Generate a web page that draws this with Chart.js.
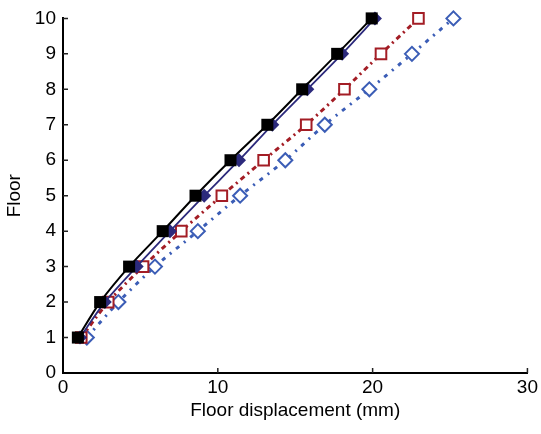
<!DOCTYPE html>
<html>
<head>
<meta charset="utf-8">
<script src="https://cdn.jsdelivr.net/npm/chart.js@4/dist/chart.umd.min.js"></script>
<style>
  html, body { margin: 0; padding: 0; background: #fff; }
  #wrap { width: 541px; height: 434px; }
</style>
</head>
<body>
<div id="wrap"><canvas id="floorChart" width="541" height="434"></canvas></div>
<script>
// floors and displacement (mm) per series
const floors = [1, 2, 3, 4, 5, 6, 7, 8, 9, 10];
const dispBlack = [0.96, 2.40, 4.27, 6.44, 8.56, 10.82, 13.20, 15.45, 17.71, 19.94];
const dispNavy  = [1.10, 2.70, 4.76, 6.91, 9.12, 11.37, 13.52, 15.78, 18.03, 20.15];
const dispRed   = [1.18, 2.92, 5.17, 7.64, 10.26, 12.96, 15.71, 18.18, 20.54, 22.96];
const dispBlue  = [1.54, 3.58, 5.94, 8.71, 11.44, 14.36, 16.91, 19.79, 22.54, 25.22];
const xTicks = [0, 10, 20, 30];
const yTicks = [0, 1, 2, 3, 4, 5, 6, 7, 8, 9, 10];

const pts = (xs) => xs.map((v, i) => ({ x: v, y: floors[i] }));
const FONT = "'Liberation Sans', Arial, Helvetica, sans-serif";

// ticks point into the plot area, like the original
const inwardTicks = {
    id: 'inwardTicks',
    beforeDatasetsDraw(chart) {
        const { ctx, chartArea, scales } = chart;
        ctx.save();
        ctx.strokeStyle = '#222';
        ctx.lineWidth = 1.5;
        ctx.beginPath();
        xTicks.slice(1).forEach(v => {
            const px = scales.x.getPixelForValue(v);
            ctx.moveTo(px, chartArea.bottom);
            ctx.lineTo(px, chartArea.bottom - 5);
        });
        yTicks.slice(1).forEach(v => {
            const py = scales.y.getPixelForValue(v);
            ctx.moveTo(chartArea.left, py);
            ctx.lineTo(chartArea.left + 5, py);
        });
        ctx.stroke();
        ctx.restore();
    }
};

const ctx = document.getElementById('floorChart').getContext('2d');
new Chart(ctx, {
    type: 'line',
    data: {
        datasets: [{
            data: pts(dispBlack),
            borderColor: '#000',
            backgroundColor: '#000',
            borderWidth: 2,
            pointStyle: 'rect',
            pointRadius: 8.5,
            pointBorderWidth: 0,
            tension: 0.3,
            clip: false
        }, {
            data: pts(dispNavy),
            borderColor: '#2c2a7c',
            backgroundColor: '#2c2a7c',
            borderWidth: 1.8,
            pointStyle: 'rectRot',
            pointRadius: 7,
            pointBorderWidth: 0,
            tension: 0.3,
            clip: false
        }, {
            data: pts(dispRed),
            borderColor: '#a31d25',
            backgroundColor: '#fff',
            borderWidth: 3,
            borderDash: [5, 4, 2, 4],
            pointStyle: 'rect',
            pointRadius: 7.5,
            pointBorderWidth: 2,
            tension: 0.3,
            clip: false
        }, {
            data: pts(dispBlue),
            borderColor: '#3b5db6',
            backgroundColor: '#fff',
            borderWidth: 3,
            borderDash: [4, 6, 2, 6],
            pointStyle: 'rectRot',
            pointRadius: 7,
            pointBorderWidth: 2,
            tension: 0.3,
            clip: false
        }]
    },
    options: {
        responsive: false,
        animation: false,
        layout: { padding: { top: 17, right: 12, left: 0, bottom: 0 } },
        plugins: {
            legend: { display: false },
            tooltip: { enabled: false }
        },
        scales: {
            x: {
                type: 'linear',
                min: 0,
                max: 30,
                afterFit: (s) => { s.height = 61; },
                afterBuildTicks: (s) => { s.ticks = xTicks.map(v => ({ value: v })); },
                grid: { display: false, drawTicks: false },
                border: { display: true, color: '#000', width: 2 },
                ticks: { color: '#000', padding: 3, font: { size: 19, family: FONT } },
                title: {
                    display: true,
                    text: 'Floor displacement (mm)',
                    color: '#000',
                    padding: { top: 0, bottom: 12 },
                    font: { size: 19, family: FONT }
                }
            },
            y: {
                min: 0,
                max: 10,
                afterFit: (s) => { s.width = 63; },
                afterBuildTicks: (s) => { s.ticks = yTicks.map(v => ({ value: v })); },
                grid: { display: false, drawTicks: false },
                border: { display: true, color: '#000', width: 2 },
                ticks: { color: '#000', padding: 7, font: { size: 19, family: FONT } },
                title: {
                    display: true,
                    text: 'Floor',
                    color: '#000',
                    padding: { top: 3, bottom: 0 },
                    font: { size: 19, family: FONT }
                }
            }
        }
    },
    plugins: [inwardTicks]
});
</script>
</body>
</html>
